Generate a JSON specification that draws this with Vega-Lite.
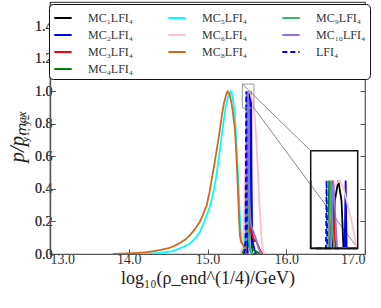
{
  "$schema": "https://vega.github.io/schema/vega-lite/v6.json",
  "width": 315,
  "height": 252,
  "autosize": {"type": "none"},
  "padding": {"left": 50, "top": 2, "right": 16, "bottom": 54},
  "background": "white",
  "config": {
    "view": {"stroke": "#555", "strokeWidth": 1.2},
    "axis": {"labelFont": "Liberation Serif", "labelFontSize": 14, "labelColor": "#333", "titleFont": "Liberation Serif", "titleColor": "#222", "titleFontWeight": "normal", "domainColor": "#555", "domainWidth": 1.2, "tickColor": "#555", "grid": false, "tickSize": -5, "labelPadding": 3},
    "legend": {"orient": "none", "legendX": -1, "legendY": 2, "columns": 3, "direction": "horizontal", "strokeColor": "#111", "fillColor": "white", "cornerRadius": 4, "padding": 4, "symbolType": "stroke", "symbolSize": 300, "symbolStrokeWidth": 2, "labelFont": "Liberation Serif", "labelFontSize": 12, "labelColor": "#333", "labelOffset": 15, "rowPadding": 1, "columnPadding": 30}
  },
  "datasets": {
    "curves": [
      {"s":"MC₁LFI₄","x":15.46,"y":0},{"s":"MC₁LFI₄","x":15.49,"y":0},{"s":"MC₁LFI₄","x":15.498,"y":0.1},{"s":"MC₁LFI₄","x":15.503,"y":0.4},{"s":"MC₁LFI₄","x":15.507,"y":0.7},{"s":"MC₁LFI₄","x":15.511,"y":0.9},{"s":"MC₁LFI₄","x":15.518,"y":0.97},{"s":"MC₁LFI₄","x":15.529,"y":1.0},{"s":"MC₁LFI₄","x":15.539,"y":0.97},{"s":"MC₁LFI₄","x":15.545,"y":0.9},{"s":"MC₁LFI₄","x":15.549,"y":0.7},{"s":"MC₁LFI₄","x":15.553,"y":0.4},{"s":"MC₁LFI₄","x":15.558,"y":0.1},{"s":"MC₁LFI₄","x":15.567,"y":0},{"s":"MC₁LFI₄","x":15.6,"y":0},
      {"s":"MC₂LFI₄","x":15.46,"y":0},{"s":"MC₂LFI₄","x":15.5,"y":0.03},{"s":"MC₂LFI₄","x":15.52,"y":0.06},{"s":"MC₂LFI₄","x":15.535,"y":0.15},{"s":"MC₂LFI₄","x":15.544,"y":0.5},{"s":"MC₂LFI₄","x":15.549,"y":0.9},{"s":"MC₂LFI₄","x":15.552,"y":1.0},{"s":"MC₂LFI₄","x":15.555,"y":0.9},{"s":"MC₂LFI₄","x":15.559,"y":0.5},{"s":"MC₂LFI₄","x":15.566,"y":0.15},{"s":"MC₂LFI₄","x":15.58,"y":0.06},{"s":"MC₂LFI₄","x":15.6,"y":0.02},{"s":"MC₂LFI₄","x":15.62,"y":0},
      {"s":"MC₃LFI₄","x":15.46,"y":0},{"s":"MC₃LFI₄","x":15.48,"y":0},{"s":"MC₃LFI₄","x":15.495,"y":0.1},{"s":"MC₃LFI₄","x":15.503,"y":0.6},{"s":"MC₃LFI₄","x":15.507,"y":0.95},{"s":"MC₃LFI₄","x":15.51,"y":1.0},{"s":"MC₃LFI₄","x":15.513,"y":0.95},{"s":"MC₃LFI₄","x":15.52,"y":0.6},{"s":"MC₃LFI₄","x":15.53,"y":0.3},{"s":"MC₃LFI₄","x":15.55,"y":0.15},{"s":"MC₃LFI₄","x":15.58,"y":0.1},{"s":"MC₃LFI₄","x":15.6,"y":0.08},{"s":"MC₃LFI₄","x":15.62,"y":0.08},{"s":"MC₃LFI₄","x":15.645,"y":0.05},{"s":"MC₃LFI₄","x":15.67,"y":0.02},{"s":"MC₃LFI₄","x":15.7,"y":0},
      {"s":"MC₄LFI₄","x":15.42,"y":0},{"s":"MC₄LFI₄","x":15.44,"y":0.01},{"s":"MC₄LFI₄","x":15.45,"y":0.02},{"s":"MC₄LFI₄","x":15.47,"y":0.03},{"s":"MC₄LFI₄","x":15.485,"y":0.1},{"s":"MC₄LFI₄","x":15.493,"y":0.5},{"s":"MC₄LFI₄","x":15.497,"y":0.9},{"s":"MC₄LFI₄","x":15.5,"y":1.0},{"s":"MC₄LFI₄","x":15.503,"y":0.9},{"s":"MC₄LFI₄","x":15.507,"y":0.5},{"s":"MC₄LFI₄","x":15.515,"y":0.1},{"s":"MC₄LFI₄","x":15.53,"y":0.04},{"s":"MC₄LFI₄","x":15.56,"y":0.03},{"s":"MC₄LFI₄","x":15.6,"y":0.02},{"s":"MC₄LFI₄","x":15.64,"y":0.01},{"s":"MC₄LFI₄","x":15.66,"y":0},
      {"s":"MC₅LFI₄","x":14.2,"y":0},{"s":"MC₅LFI₄","x":14.35,"y":0.005},{"s":"MC₅LFI₄","x":14.45,"y":0.01},{"s":"MC₅LFI₄","x":14.52,"y":0.014},{"s":"MC₅LFI₄","x":14.6,"y":0.025},{"s":"MC₅LFI₄","x":14.7,"y":0.045},{"s":"MC₅LFI₄","x":14.78,"y":0.066},{"s":"MC₅LFI₄","x":14.85,"y":0.1},{"s":"MC₅LFI₄","x":14.905,"y":0.137},{"s":"MC₅LFI₄","x":14.96,"y":0.2},{"s":"MC₅LFI₄","x":15.03,"y":0.29},{"s":"MC₅LFI₄","x":15.08,"y":0.39},{"s":"MC₅LFI₄","x":15.117,"y":0.496},{"s":"MC₅LFI₄","x":15.16,"y":0.65},{"s":"MC₅LFI₄","x":15.2,"y":0.8},{"s":"MC₅LFI₄","x":15.23,"y":0.9},{"s":"MC₅LFI₄","x":15.264,"y":0.97},{"s":"MC₅LFI₄","x":15.294,"y":1.0},{"s":"MC₅LFI₄","x":15.307,"y":0.99},{"s":"MC₅LFI₄","x":15.33,"y":0.93},{"s":"MC₅LFI₄","x":15.349,"y":0.845},{"s":"MC₅LFI₄","x":15.37,"y":0.65},{"s":"MC₅LFI₄","x":15.39,"y":0.455},{"s":"MC₅LFI₄","x":15.405,"y":0.3},{"s":"MC₅LFI₄","x":15.42,"y":0.148},{"s":"MC₅LFI₄","x":15.43,"y":0.1},{"s":"MC₅LFI₄","x":15.44,"y":0.067},{"s":"MC₅LFI₄","x":15.46,"y":0.06},{"s":"MC₅LFI₄","x":15.48,"y":0.1},{"s":"MC₅LFI₄","x":15.5,"y":0.2},{"s":"MC₅LFI₄","x":15.51,"y":0.22},{"s":"MC₅LFI₄","x":15.52,"y":0.12},{"s":"MC₅LFI₄","x":15.54,"y":0.04},{"s":"MC₅LFI₄","x":15.56,"y":0.01},{"s":"MC₅LFI₄","x":15.58,"y":0},
      {"s":"MC₆LFI₄","x":15.42,"y":0},{"s":"MC₆LFI₄","x":15.45,"y":0.05},{"s":"MC₆LFI₄","x":15.47,"y":0.3},{"s":"MC₆LFI₄","x":15.485,"y":0.7},{"s":"MC₆LFI₄","x":15.495,"y":0.9},{"s":"MC₆LFI₄","x":15.505,"y":0.96},{"s":"MC₆LFI₄","x":15.515,"y":0.99},{"s":"MC₆LFI₄","x":15.532,"y":1.0},{"s":"MC₆LFI₄","x":15.545,"y":0.99},{"s":"MC₆LFI₄","x":15.56,"y":0.96},{"s":"MC₆LFI₄","x":15.575,"y":0.93},{"s":"MC₆LFI₄","x":15.585,"y":0.9},{"s":"MC₆LFI₄","x":15.6,"y":0.84},{"s":"MC₆LFI₄","x":15.62,"y":0.7},{"s":"MC₆LFI₄","x":15.645,"y":0.455},{"s":"MC₆LFI₄","x":15.665,"y":0.25},{"s":"MC₆LFI₄","x":15.688,"y":0.086},{"s":"MC₆LFI₄","x":15.7,"y":0.03},{"s":"MC₆LFI₄","x":15.72,"y":0},
      {"s":"MC₈LFI₄","x":13.8,"y":0},{"s":"MC₈LFI₄","x":13.95,"y":0.003},{"s":"MC₈LFI₄","x":14.1,"y":0.006},{"s":"MC₈LFI₄","x":14.2,"y":0.01},{"s":"MC₈LFI₄","x":14.27,"y":0.014},{"s":"MC₈LFI₄","x":14.35,"y":0.02},{"s":"MC₈LFI₄","x":14.45,"y":0.03},{"s":"MC₈LFI₄","x":14.52,"y":0.038},{"s":"MC₈LFI₄","x":14.58,"y":0.05},{"s":"MC₈LFI₄","x":14.65,"y":0.068},{"s":"MC₈LFI₄","x":14.72,"y":0.09},{"s":"MC₈LFI₄","x":14.78,"y":0.117},{"s":"MC₈LFI₄","x":14.85,"y":0.16},{"s":"MC₈LFI₄","x":14.905,"y":0.2},{"s":"MC₈LFI₄","x":14.95,"y":0.25},{"s":"MC₈LFI₄","x":14.99,"y":0.3},{"s":"MC₈LFI₄","x":15.03,"y":0.39},{"s":"MC₈LFI₄","x":15.05,"y":0.45},{"s":"MC₈LFI₄","x":15.08,"y":0.53},{"s":"MC₈LFI₄","x":15.117,"y":0.64},{"s":"MC₈LFI₄","x":15.15,"y":0.74},{"s":"MC₈LFI₄","x":15.18,"y":0.845},{"s":"MC₈LFI₄","x":15.21,"y":0.93},{"s":"MC₈LFI₄","x":15.244,"y":0.99},{"s":"MC₈LFI₄","x":15.256,"y":1.0},{"s":"MC₈LFI₄","x":15.28,"y":0.98},{"s":"MC₈LFI₄","x":15.3,"y":0.94},{"s":"MC₈LFI₄","x":15.32,"y":0.88},{"s":"MC₈LFI₄","x":15.349,"y":0.76},{"s":"MC₈LFI₄","x":15.37,"y":0.58},{"s":"MC₈LFI₄","x":15.39,"y":0.35},{"s":"MC₈LFI₄","x":15.4,"y":0.22},{"s":"MC₈LFI₄","x":15.413,"y":0.11},{"s":"MC₈LFI₄","x":15.425,"y":0.075},{"s":"MC₈LFI₄","x":15.44,"y":0.065},{"s":"MC₈LFI₄","x":15.46,"y":0.05},{"s":"MC₈LFI₄","x":15.475,"y":0.03},{"s":"MC₈LFI₄","x":15.49,"y":0},
      {"s":"MC₉LFI₄","x":15.46,"y":0},{"s":"MC₉LFI₄","x":15.475,"y":0.02},{"s":"MC₉LFI₄","x":15.488,"y":0.1},{"s":"MC₉LFI₄","x":15.497,"y":0.6},{"s":"MC₉LFI₄","x":15.502,"y":0.95},{"s":"MC₉LFI₄","x":15.505,"y":1.0},{"s":"MC₉LFI₄","x":15.508,"y":0.95},{"s":"MC₉LFI₄","x":15.515,"y":0.6},{"s":"MC₉LFI₄","x":15.525,"y":0.1},{"s":"MC₉LFI₄","x":15.54,"y":0.02},{"s":"MC₉LFI₄","x":15.56,"y":0},
      {"s":"MC₁₀LFI₄","x":15.46,"y":0},{"s":"MC₁₀LFI₄","x":15.48,"y":0},{"s":"MC₁₀LFI₄","x":15.495,"y":0.1},{"s":"MC₁₀LFI₄","x":15.505,"y":0.7},{"s":"MC₁₀LFI₄","x":15.51,"y":0.97},{"s":"MC₁₀LFI₄","x":15.513,"y":1.0},{"s":"MC₁₀LFI₄","x":15.517,"y":0.97},{"s":"MC₁₀LFI₄","x":15.525,"y":0.6},{"s":"MC₁₀LFI₄","x":15.535,"y":0.3},{"s":"MC₁₀LFI₄","x":15.55,"y":0.18},{"s":"MC₁₀LFI₄","x":15.58,"y":0.14},{"s":"MC₁₀LFI₄","x":15.61,"y":0.1},{"s":"MC₁₀LFI₄","x":15.64,"y":0.05},{"s":"MC₁₀LFI₄","x":15.67,"y":0.01},{"s":"MC₁₀LFI₄","x":15.69,"y":0},
      {"s":"LFI₄","x":15.46,"y":0},{"s":"LFI₄","x":15.475,"y":0.02},{"s":"LFI₄","x":15.482,"y":0.1},{"s":"LFI₄","x":15.487,"y":0.5},{"s":"LFI₄","x":15.49,"y":0.85},{"s":"LFI₄","x":15.492,"y":1.0},{"s":"LFI₄","x":15.494,"y":0.85},{"s":"LFI₄","x":15.497,"y":0.5},{"s":"LFI₄","x":15.502,"y":0.1},{"s":"LFI₄","x":15.512,"y":0},{"s":"LFI₄","x":15.53,"y":0}
    ],
    "box": [{"x1": 15.442, "x2": 15.59, "y1": 0.898, "y2": 1.045}],
    "conn": [
      {"x1": 15.442, "y1": 1.045, "x2": 16.311, "y2": 0.635},
      {"x1": 15.59, "y1": 0.898, "x2": 16.907, "y2": 0.035}
    ]
  },
  "layer": [
    {
      "layer": [
        {
          "data": {"name": "curves"},
          "mark": {"type": "line", "strokeWidth": 1.8, "clip": true},
          "encoding": {
            "x": {"field": "x", "type": "quantitative", "scale": {"domain": [13, 17], "nice": false, "zero": false}, "axis": {"values": [13, 13.5, 14, 14.5, 15, 15.5, 16, 16.5, 17], "format": ".1f", "title": "log₁₀(ρ_end^(1/4)/GeV)", "titleFontSize": 18, "titlePadding": 3}},
            "y": {"field": "y", "type": "quantitative", "scale": {"domain": [0, 1.55], "nice": false}, "axis": {"values": [0, 0.2, 0.4, 0.6, 0.8, 1.0, 1.2, 1.4], "format": ".1f", "title": "p/pₘₐₓ", "titleFontSize": 21, "titleFontStyle": "italic", "titleX": -27, "titleY": 134, "titleBaseline": "alphabetic", "titleAngle": 270}},
            "color": {"field": "s", "type": "nominal",
              "scale": {"domain": ["MC₁LFI₄","MC₅LFI₄","MC₉LFI₄","MC₂LFI₄","MC₆LFI₄","MC₁₀LFI₄","MC₃LFI₄","MC₈LFI₄","LFI₄","MC₄LFI₄"],
                        "range": ["#000000","#00ffff","#3cb371","#0000ff","#ffc0cb","#9370db","#ff0000","#d2691e","#0000ff","#008000"]},
              "legend": {"title": null}},
            "strokeDash": {"field": "s", "type": "nominal",
              "scale": {"domain": ["MC₁LFI₄","MC₅LFI₄","MC₉LFI₄","MC₂LFI₄","MC₆LFI₄","MC₁₀LFI₄","MC₃LFI₄","MC₈LFI₄","LFI₄","MC₄LFI₄"],
                        "range": [[1,0],[1,0],[1,0],[1,0],[1,0],[1,0],[1,0],[1,0],[5,3],[1,0]]},
              "legend": {"title": null}}
          }
        },
        {
          "data": {"name": "box"},
          "mark": {"type": "rect", "fill": null, "stroke": "#999", "strokeWidth": 1},
          "encoding": {
            "x": {"field": "x1", "type": "quantitative"},
            "x2": {"field": "x2"},
            "y": {"field": "y1", "type": "quantitative", "axis": {"orient": "right", "values": [0, 0.2, 0.4, 0.6, 0.8, 1.0, 1.2, 1.4], "labels": false, "title": null, "domain": false}},
            "y2": {"field": "y2"}
          }
        },
        {
          "data": {"name": "conn"},
          "mark": {"type": "rule", "color": "#888", "strokeWidth": 1},
          "encoding": {
            "x": {"field": "x1", "type": "quantitative"},
            "x2": {"field": "x2"},
            "y": {"field": "y1", "type": "quantitative"},
            "y2": {"field": "y2"}
          }
        }
      ],
      "resolve": {"axis": {"y": "independent"}}
    },
    {
      "layer": [
        {
          "data": {"name": "curves"},
          "mark": {"type": "line", "strokeWidth": 1.8},
          "encoding": {
            "x": {"field": "x", "type": "quantitative", "scale": {"domain": [15.442, 15.59], "range": [260.7, 307.7], "clamp": true, "nice": false, "zero": false}, "axis": null},
            "y": {"field": "y", "type": "quantitative", "scale": {"domain": [0.898, 1.045], "range": [246.3, 148.7], "clamp": true, "nice": false, "zero": false}, "axis": null},
            "color": {"field": "s", "type": "nominal",
              "scale": {"domain": ["MC₁LFI₄","MC₅LFI₄","MC₉LFI₄","MC₂LFI₄","MC₆LFI₄","MC₁₀LFI₄","MC₃LFI₄","MC₈LFI₄","LFI₄","MC₄LFI₄"],
                        "range": ["#000000","#00ffff","#3cb371","#0000ff","#ffc0cb","#9370db","#ff0000","#d2691e","#0000ff","#008000"]},
              "legend": {"title": null}},
            "strokeDash": {"field": "s", "type": "nominal",
              "scale": {"domain": ["MC₁LFI₄","MC₅LFI₄","MC₉LFI₄","MC₂LFI₄","MC₆LFI₄","MC₁₀LFI₄","MC₃LFI₄","MC₈LFI₄","LFI₄","MC₄LFI₄"],
                        "range": [[1,0],[1,0],[1,0],[1,0],[1,0],[1,0],[1,0],[1,0],[5,3],[1,0]]},
              "legend": {"title": null}}
          }
        },
        {
          "data": {"name": "box"},
          "mark": {"type": "rect", "fill": null, "stroke": "#111", "strokeWidth": 1.5},
          "encoding": {
            "x": {"field": "x1", "type": "quantitative"},
            "x2": {"field": "x2"},
            "y": {"field": "y1", "type": "quantitative"},
            "y2": {"field": "y2"}
          }
        }
      ]
    }
  ],
  "resolve": {"scale": {"x": "independent", "y": "independent"}}
}
